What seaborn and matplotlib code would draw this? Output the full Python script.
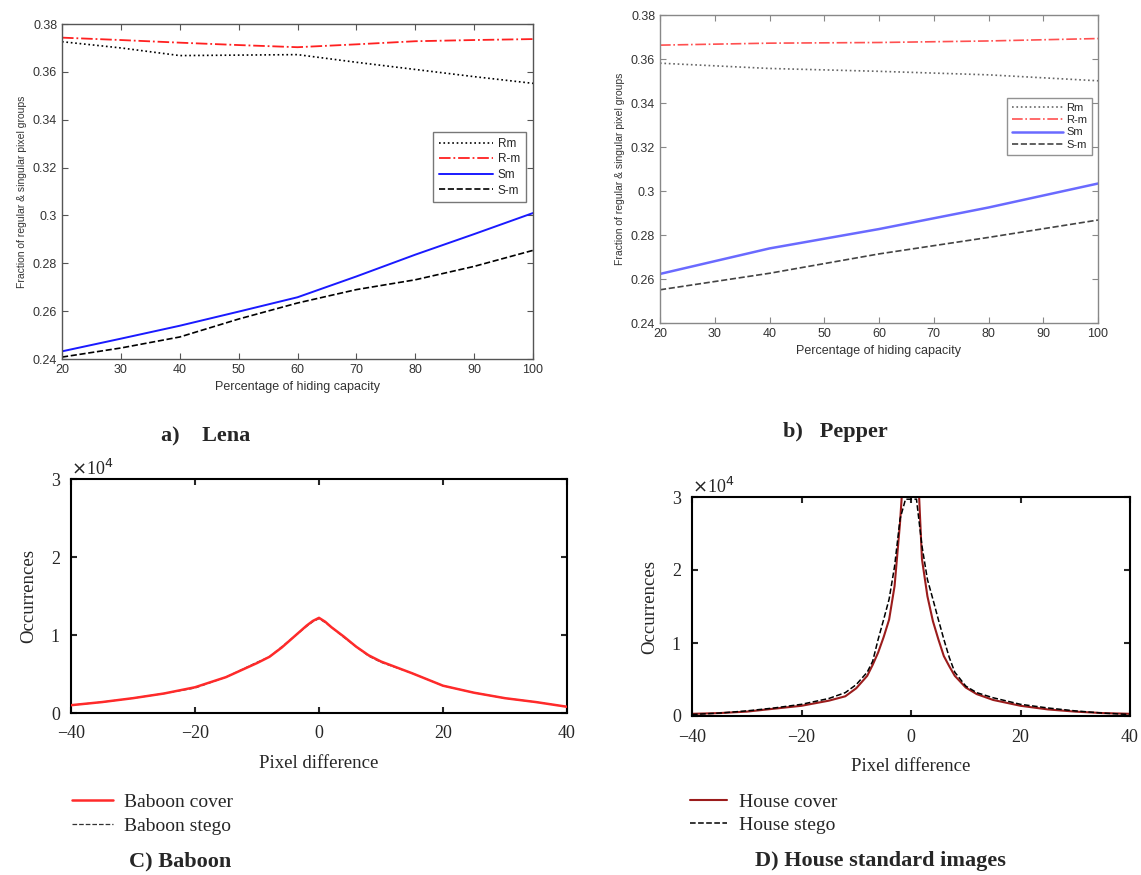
import matplotlib
matplotlib.use("Agg")

import matplotlib.pyplot as plt
import seaborn as sns

# ---- data ----
HIDING = [20, 30, 40, 50, 60, 70, 80, 90, 100]
LENA_RM = [0.3726, 0.3700, 0.3668, 0.3670, 0.3672, 0.3640, 0.3610, 0.3580, 0.3552]
LENA_RNM = [0.3743, 0.3733, 0.3722, 0.3712, 0.3703, 0.3715, 0.3728, 0.3733, 0.3737]
LENA_SM = [0.2432, 0.2485, 0.2539, 0.2598, 0.2658, 0.2745, 0.2836, 0.2922, 0.3010]
LENA_SNM = [0.2408, 0.2446, 0.2492, 0.2567, 0.2634, 0.2690, 0.2731, 0.2787, 0.2854]

HIDING_P = [20, 40, 60, 80, 100]
PEP_RM = [0.3581, 0.3557, 0.3544, 0.3528, 0.3501]
PEP_RNM = [0.3663, 0.3672, 0.3675, 0.3682, 0.3693]
PEP_SM = [0.2623, 0.2739, 0.2827, 0.2925, 0.3034]
PEP_SNM = [0.2551, 0.2626, 0.2714, 0.2789, 0.2868]

BAB_X = [-40, -35, -30, -25, -20, -15, -10, -8, -6, -4, -2, -1, 0,
         1, 2, 4, 6, 8, 10, 15, 20, 25, 30, 35, 40]
BAB_COVER = [0.10, 0.14, 0.19, 0.25, 0.33, 0.46, 0.64, 0.72, 0.84, 0.98, 1.12, 1.18, 1.22,
             1.17, 1.10, 0.98, 0.85, 0.74, 0.66, 0.51, 0.35, 0.26, 0.19, 0.14, 0.08]
BAB_STEGO = [0.10, 0.14, 0.19, 0.25, 0.32, 0.46, 0.65, 0.72, 0.85, 0.98, 1.11, 1.17, 1.21,
             1.16, 1.10, 0.97, 0.85, 0.73, 0.65, 0.51, 0.35, 0.26, 0.19, 0.14, 0.08]

HOUSE_X = [-40, -35, -30, -25, -20, -15, -12, -10, -8, -7, -6, -5, -4, -3, -2, -1, 0,
           1, 2, 3, 4, 5, 6, 7, 8, 10, 12, 15, 20, 25, 30, 35, 40]
HOUSE_COVER = [0.03, 0.04, 0.06, 0.10, 0.14, 0.21, 0.27, 0.38, 0.55, 0.70, 0.87, 1.08, 1.32,
               1.78, 2.65, 3.80, 4.20, 3.80, 2.15, 1.64, 1.30, 1.05, 0.82, 0.68, 0.55, 0.39,
               0.30, 0.22, 0.14, 0.09, 0.06, 0.04, 0.03]
HOUSE_STEGO = [0.02, 0.04, 0.07, 0.11, 0.16, 0.24, 0.32, 0.43, 0.60, 0.75, 1.05, 1.32, 1.60,
               2.05, 2.70, 2.97, 2.97, 2.97, 2.33, 1.87, 1.60, 1.32, 1.05, 0.80, 0.60, 0.41,
               0.32, 0.25, 0.16, 0.11, 0.07, 0.04, 0.02]

SANS = "Liberation Sans"
SERIF = "Liberation Serif"

sns.set_style("white")
plt.rcParams["font.family"] = [SANS, "DejaVu Sans"]

fig = plt.figure(figsize=(11.41, 8.75), dpi=100)
W, H = 1141, 875


def box(l, t, r, b):
    return fig.add_axes([l / W, 1 - b / H, (r - l) / W, (b - t) / H])


def style_top(ax, spine_col):
    ax.set_xlim(20, 100)
    ax.set_ylim(0.24, 0.38)
    ax.set_xticks(range(20, 101, 10))
    yt = [0.24, 0.26, 0.28, 0.30, 0.32, 0.34, 0.36, 0.38]
    ax.set_yticks(yt)
    ax.set_yticklabels([f"{v:g}" for v in yt])
    ax.tick_params(direction="in", bottom=True, left=True, top=True, right=True,
                   length=4, width=0.8, labelsize=9, colors=spine_col,
                   labelcolor="#333333")
    for s in ax.spines.values():
        s.set_color(spine_col)
        s.set_linewidth(1.0)
    ax.set_xlabel("Percentage of hiding capacity", fontsize=9, color="#333333", labelpad=4)
    ax.set_ylabel("Fraction of regular & singular pixel groups", fontsize=7.5,
                  color="#333333", labelpad=4)


def style_bottom(ax):
    ax.set_xlim(-40, 40)
    ax.set_ylim(0, 3)
    ax.set_xticks([-40, -20, 0, 20, 40])
    ax.set_yticks([0, 1, 2, 3])
    ax.tick_params(direction="in", bottom=True, left=True, top=True, right=True,
                   length=4, width=1.5, labelsize=13)
    ax.tick_params(axis="x", pad=9)
    ax.tick_params(axis="y", pad=8)
    for lab in ax.get_xticklabels() + ax.get_yticklabels():
        lab.set_fontfamily(SERIF)
    for s in ax.spines.values():
        s.set_color("black")
        s.set_linewidth(1.5)
    ax.set_xlabel("Pixel difference", fontsize=13.5, family=SERIF, labelpad=9)
    ax.set_ylabel("Occurrences", fontsize=13.5, family=SERIF, labelpad=10)
    ax.text(0, 1.0, r"$\times$10$^4$", transform=ax.transAxes, fontsize=13,
            family=SERIF, ha="left", va="bottom")


# ---- a) Lena ----
ax1 = box(62, 24, 533, 359)
sns.lineplot(x=HIDING, y=LENA_RM, ax=ax1, color="black", linestyle=":", lw=1.2, label="Rm")
sns.lineplot(x=HIDING, y=LENA_RNM, ax=ax1, color="#ff2020", linestyle="-.", lw=1.3, label="R-m")
sns.lineplot(x=HIDING, y=LENA_SM, ax=ax1, color="#1a1aff", linestyle="-", lw=1.4, label="Sm")
sns.lineplot(x=HIDING, y=LENA_SNM, ax=ax1, color="black", linestyle="--", lw=1.2, label="S-m")
style_top(ax1, "#555555")
ax1.legend(loc="upper left", bbox_to_anchor=((433 - 62) / 471, 1 - (132 - 24) / 335),
           fontsize=8.5, frameon=True, fancybox=False, edgecolor="#555555",
           handlelength=4.6, handletextpad=0.4, labelspacing=0.3, borderpad=0.5,
           borderaxespad=0)

# ---- b) Pepper ----
ax2 = box(660, 15, 1098, 323)
sns.lineplot(x=HIDING_P, y=PEP_RM, ax=ax2, color="#666666", linestyle=":", lw=1.2, label="Rm")
sns.lineplot(x=HIDING_P, y=PEP_RNM, ax=ax2, color="#ff5050", linestyle="-.", lw=1.2, label="R-m")
sns.lineplot(x=HIDING_P, y=PEP_SM, ax=ax2, color="#6a6aff", linestyle="-", lw=1.8, label="Sm")
sns.lineplot(x=HIDING_P, y=PEP_SNM, ax=ax2, color="#444444", linestyle="--", lw=1.2, label="S-m")
style_top(ax2, "#888888")
ax2.legend(loc="upper left", bbox_to_anchor=((1007 - 660) / 438, 1 - (98 - 15) / 308),
           fontsize=8, frameon=True, fancybox=False, edgecolor="#777777",
           handlelength=4.6, handletextpad=0.3, labelspacing=0.2, borderpad=0.45,
           borderaxespad=0)

# ---- C) Baboon ----
ax3 = box(71, 479, 567, 713)
sns.lineplot(x=BAB_X, y=BAB_COVER, ax=ax3, color="#ff2a2a", linestyle="-", lw=1.8,
             label="Baboon cover", legend=False, zorder=3)
sns.lineplot(x=BAB_X, y=BAB_STEGO, ax=ax3, color="#333333", linestyle="--", lw=0.9,
             label="Baboon stego", legend=False, zorder=2)
style_bottom(ax3)
h3, l3 = ax3.get_legend_handles_labels()
fig.legend(h3, l3, loc="upper left", bbox_to_anchor=(72 / W, 1 - 793 / H),
           bbox_transform=fig.transFigure, frameon=False,
           prop={"family": SERIF, "size": 14}, handlelength=2.1, handletextpad=0.6,
           labelspacing=0.35, borderpad=0, borderaxespad=0)

# ---- D) House ----
ax4 = box(692, 497, 1130, 716)
sns.lineplot(x=HOUSE_X, y=HOUSE_COVER, ax=ax4, color="#9b1c1c", linestyle="-", lw=1.5,
             label="House cover", legend=False)
sns.lineplot(x=HOUSE_X, y=HOUSE_STEGO, ax=ax4, color="black", linestyle="--", lw=1.1,
             label="House stego", legend=False)
style_bottom(ax4)
h4, l4 = ax4.get_legend_handles_labels()
fig.legend(h4, l4, loc="upper left", bbox_to_anchor=(690 / W, 1 - 793 / H),
           bbox_transform=fig.transFigure, frameon=False,
           prop={"family": SERIF, "size": 14}, handlelength=1.9, handletextpad=0.6,
           labelspacing=0.3, borderpad=0, borderaxespad=0)

# ---- captions ----
cap = dict(family=SERIF, fontsize=16, fontweight="bold", ha="center", va="center")
fig.text(206 / W, 1 - 436 / H, "a)    Lena", **cap)
fig.text(835 / W, 1 - 432 / H, "b)   Pepper", **cap)
fig.text(180 / W, 1 - 861 / H, "C) Baboon", **cap)
fig.text(880 / W, 1 - 861 / H, "D) House standard images", **cap)

fig.savefig("out.png", dpi=100)
plt.close("all")
